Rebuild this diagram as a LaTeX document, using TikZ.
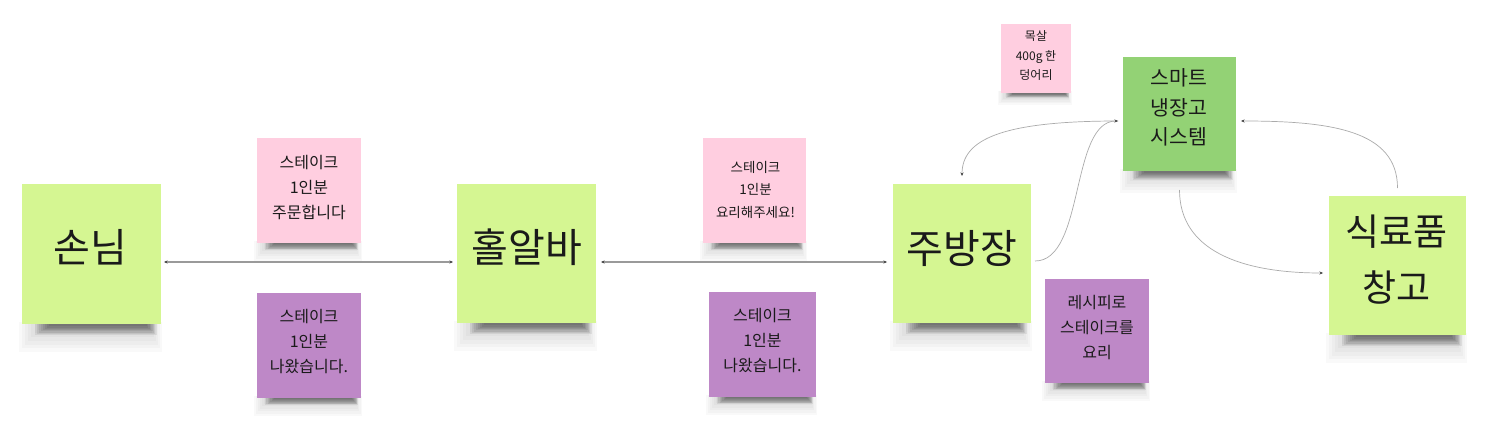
\documentclass[tikz,border=0pt]{standalone}
\usepackage{fontspec}
\setmainfont{Noto Sans CJK KR}
\usetikzlibrary{arrows.meta,backgrounds}
\definecolor{lgreen}{HTML}{D5F692}
\definecolor{dgreen}{HTML}{93D275}
\definecolor{lpink}{HTML}{FFCEE0}
\definecolor{violet}{HTML}{BE88C7}
\definecolor{ink}{HTML}{1A1A1A}
\definecolor{linkgray}{HTML}{9A9A9A}
\definecolor{curvegray}{HTML}{ABABAB}
\definecolor{tipgray}{HTML}{444444}
\begin{document}
\begin{tikzpicture}[x=1pt,y=-1pt,
  note/.style={draw=none, inner sep=0pt, outer sep=0pt},
  big/.style={font=\fontsize{40}{56}\selectfont, text=ink, align=center},
  store/.style={font=\fontsize{37}{56}\selectfont, text=ink, align=center},
  mid/.style={font=\fontsize{20.5}{29.5}\selectfont, text=ink, align=center},
  sm/.style={font=\fontsize{16}{25}\selectfont, text=ink, align=center},
  xs/.style={font=\fontsize{13.5}{22.5}\selectfont, text=ink, align=center},
  tny/.style={font=\fontsize{12}{19.5}\selectfont, text=ink, align=center},
  link/.style={draw=linkgray, line width=1.1pt},
  curvy/.style={draw=curvegray, line width=0.7pt},
  arr/.style={-{Stealth[length=3.5pt,width=3pt,color=tipgray]}},
  twoway/.style={{Stealth[length=3.5pt,width=3pt,color=tipgray]}-{Stealth[length=3.5pt,width=3pt,color=tipgray]}}
]
\useasboundingbox (0,0) rectangle (1491,433);

% sticky notes
\node[note, fill=lgreen, minimum width=139pt, minimum height=140pt] (guest) at (91.5,254) {};
\node[note, fill=lgreen, minimum width=139pt, minimum height=139pt] (hall) at (526.5,253.5) {};
\node[note, fill=lgreen, minimum width=138pt, minimum height=139pt] (chef) at (962,253.5) {};
\node[note, fill=lgreen, minimum width=137pt, minimum height=139pt] (store) at (1397.5,265.5) {};
\node[note, fill=dgreen, minimum width=113pt, minimum height=114pt] (fridge) at (1179.5,114) {};
\node[note, fill=lpink, minimum width=104pt, minimum height=105pt] (p1) at (309,190.5) {};
\node[note, fill=violet, minimum width=104pt, minimum height=105pt] (v1) at (309,345.5) {};
\node[note, fill=lpink, minimum width=103pt, minimum height=105pt] (p2) at (754.5,190.5) {};
\node[note, fill=violet, minimum width=107pt, minimum height=105pt] (v2) at (762.5,344.5) {};
\node[note, fill=lpink, minimum width=70pt, minimum height=69pt] (meat) at (1036,58.5) {};
\node[note, fill=violet, minimum width=104pt, minimum height=104pt] (recipe) at (1097,331) {};

% texts
\node[big] (guestT) at (90,247) {손님};
\node[big] (hallT) at (527,247) {홀알바};
\node[big] (chefT) at (962,248) {주방장};
\node[store] (storeT) at (1396.5,260) {식료품\\창고};
\node[mid] (fridgeT) at (1179,107.5) {스마트\\냉장고\\시스템};
\node[sm] (p1T) at (309,187.5) {스테이크\\1인분\\주문합니다};
\node[sm] (v1T) at (309,342) {스테이크\\1인분\\나왔습니다.};
\node[xs] (p2T) at (755.5,189.5) {스테이크\\1인분\\요리해주세요!};
\node[sm] (v2T) at (762.5,341) {스테이크\\1인분\\나왔습니다.};
\node[tny] (meatT) at (1036,56) {목살\\400g 한\\덩어리};
\node[sm] (recipeT) at (1097,327.5) {레시피로\\스테이크를\\요리};

% connectors
\draw[link, twoway, shorten <=3pt, shorten >=4pt] ([yshift=-8pt]guest.east) -- ([yshift=-8pt]guest.east -| hall.west);
\draw[link, twoway, shorten <=5pt, shorten >=6pt] ([yshift=-8.5pt]hall.east) -- ([yshift=-8.5pt]hall.east -| chef.west);
\draw[curvy, arr] ([shift={(-5,7)}]fridge.west) .. controls +(-118,0) and +(0,-36) .. ([shift={(0,-8)}]chef.north);
\draw[curvy, arr] ([shift={(4,7.5)}]chef.east) .. controls +(50,0) and +(-48,0) .. ([shift={(-5,7)}]fridge.west);
\draw[curvy, arr] ([shift={(0,19)}]fridge.south) .. controls +(0,60) and +(-83,0) .. ([shift={(-6,7.5)}]store.west);
\draw[curvy, arr] ([shift={(0,-8)}]store.north) .. controls +(0,-58) and +(89,0) .. ([shift={(5,7)}]fridge.east);

% background and shadows
\begin{scope}[on background layer]
\fill[white] (0,0) rectangle (1491,433);
\foreach \n/\d in {guest/28, hall/28, chef/28, store/28, fridge/22, p1/18, v1/18, p2/18, v2/18, meat/12, recipe/18}{
  % faint wide halo
  \foreach \k in {0,...,6}{
    \fill[black, opacity=0.022]
      ([xshift=-3pt+\k*\d pt/9, yshift=2pt]\n.south west)
      rectangle ([xshift=1pt-\k*\d pt/14, yshift=-\d pt+\k*\d pt/7.5]\n.south east);
  }
  % dark core
  \foreach \k in {0,...,7}{
    \fill[black, opacity=0.07]
      ([xshift=0.45*\d pt+\k*\d pt/14, yshift=2pt]\n.south west)
      rectangle ([xshift=-0.15*\d pt-\k*\d pt/20, yshift=-0.4*\d pt+\k*\d pt/22]\n.south east);
  }
}
\end{scope}
\end{tikzpicture}
\end{document}
